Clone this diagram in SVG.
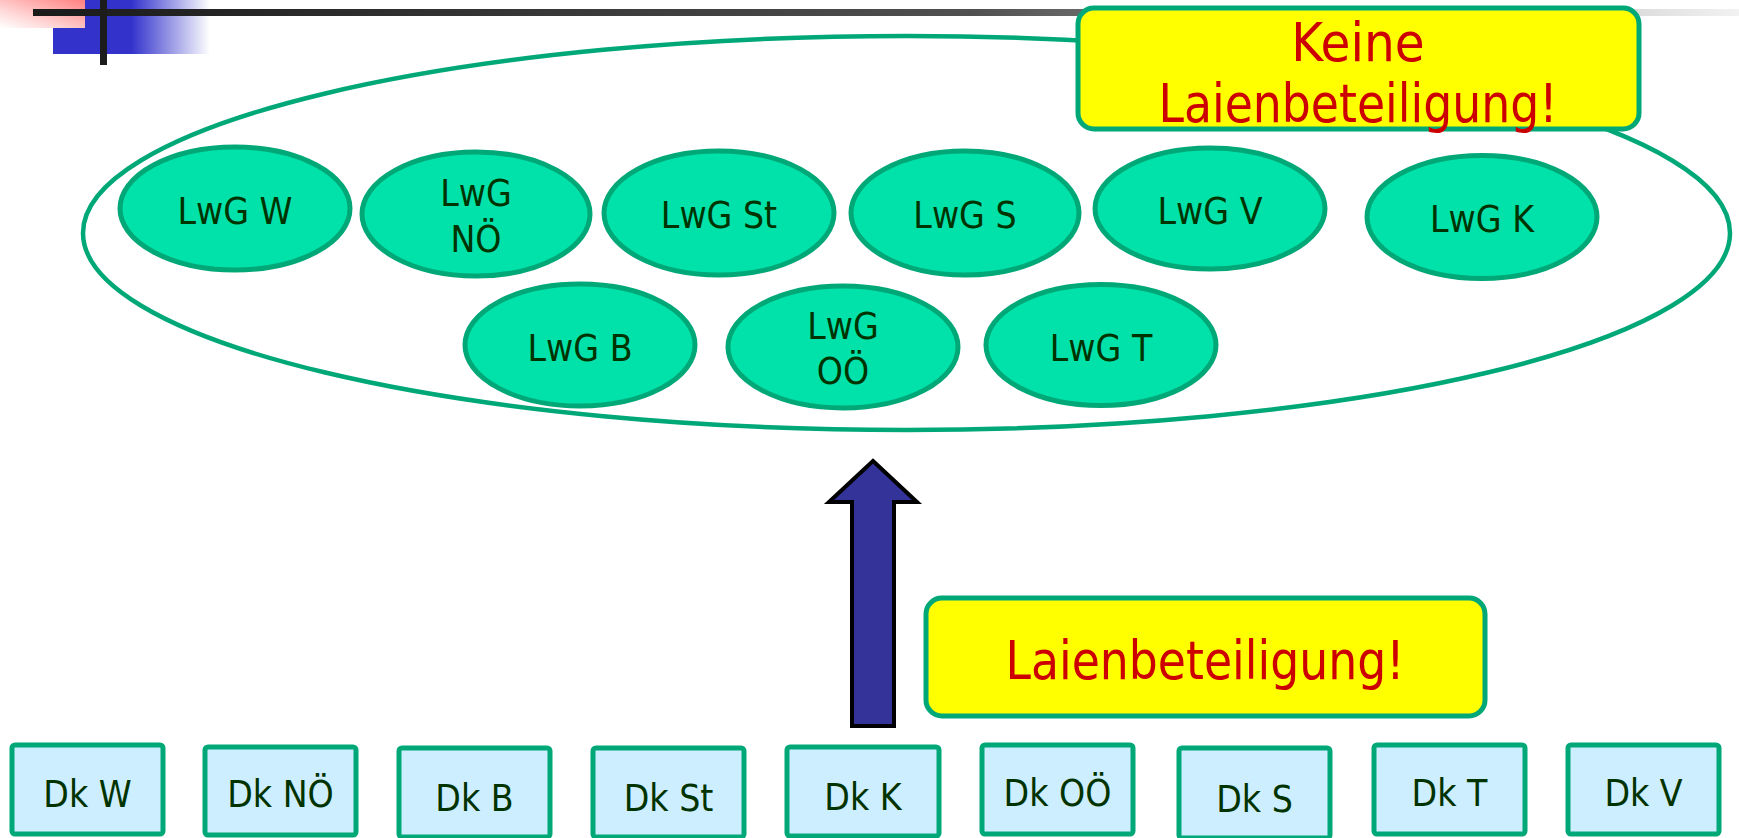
<svg xmlns="http://www.w3.org/2000/svg" width="1739" height="838" viewBox="0 0 1739 838">
<defs>
<linearGradient id="lineGrad" x1="0" y1="0" x2="1" y2="0">
<stop offset="0" stop-color="#1a1a1a"/>
<stop offset="0.55" stop-color="#505050"/>
<stop offset="1" stop-color="#f2f2f2"/>
</linearGradient>
<linearGradient id="blueGrad" x1="0" y1="0" x2="1" y2="0">
<stop offset="0" stop-color="#3333cc"/>
<stop offset="0.5" stop-color="#3333cc"/>
<stop offset="1" stop-color="#3333cc" stop-opacity="0"/>
</linearGradient>
<linearGradient id="pinkGrad" x1="0" y1="1" x2="1" y2="0">
<stop offset="0" stop-color="#ffffff"/>
<stop offset="0.35" stop-color="#ffd6d6"/>
<stop offset="1" stop-color="#ff8080"/>
</linearGradient>
<style>
.lwg ellipse{fill:#00e2a9;stroke:#00a878;stroke-width:5}
.dk rect{fill:#cdeeff;stroke:#00a878;stroke-width:5}
.t{font-family:'DejaVu Sans Condensed','DejaVu Sans',sans-serif;font-stretch:condensed;font-size:37px;fill:#003300;text-anchor:middle}
.y rect{fill:#ffff00;stroke:#00a878;stroke-width:5}
.r{font-family:'DejaVu Sans Condensed','DejaVu Sans',sans-serif;font-stretch:condensed;font-size:54px;fill:#cc0000;text-anchor:middle}
</style>
</defs>
<rect width="1739" height="838" fill="#ffffff"/>
<g id="decoration">
<rect x="53" y="0" width="157" height="54" fill="url(#blueGrad)"/>
<rect x="0" y="0" width="85" height="28" fill="url(#pinkGrad)"/>
<rect x="33" y="9" width="1706" height="7" fill="url(#lineGrad)"/>
<rect x="100" y="0" width="7" height="65" fill="#1c1c1c"/>
</g>
<g id="group-ellipse">
<ellipse cx="906.5" cy="233" rx="823.5" ry="197" fill="none" stroke="#00a878" stroke-width="4.5"/>
</g>
<g id="lwg-w" class="lwg"><ellipse cx="235" cy="208.5" rx="115" ry="61.5"/><text class="t" x="235" y="224">LwG W</text></g>
<g id="lwg-noe" class="lwg"><ellipse cx="476" cy="214" rx="114" ry="62"/><text class="t" x="476" y="206">LwG</text><text class="t" x="476" y="252">NÖ</text></g>
<g id="lwg-st" class="lwg"><ellipse cx="719" cy="213" rx="115" ry="62"/><text class="t" x="719" y="228">LwG St</text></g>
<g id="lwg-s" class="lwg"><ellipse cx="965" cy="213" rx="114" ry="62"/><text class="t" x="965" y="228">LwG S</text></g>
<g id="lwg-v" class="lwg"><ellipse cx="1210" cy="208.5" rx="115" ry="60.5"/><text class="t" x="1210" y="224">LwG V</text></g>
<g id="lwg-k" class="lwg"><ellipse cx="1482" cy="217" rx="115" ry="61.5"/><text class="t" x="1482" y="232">LwG K</text></g>
<g id="lwg-b" class="lwg"><ellipse cx="580" cy="345" rx="115" ry="61"/><text class="t" x="580" y="361">LwG B</text></g>
<g id="lwg-ooe" class="lwg"><ellipse cx="843" cy="347" rx="115" ry="61"/><text class="t" x="843" y="339">LwG</text><text class="t" x="843" y="384">OÖ</text></g>
<g id="lwg-t" class="lwg"><ellipse cx="1101" cy="345" rx="115" ry="60.5"/><text class="t" x="1101" y="361">LwG T</text></g>
<g id="keine-box" class="y">
<rect x="1078" y="8" width="561" height="121" rx="16"/>
<text class="r" x="1358" y="61">Keine</text>
<text class="r" x="1358" y="122" textLength="399" lengthAdjust="spacingAndGlyphs">Laienbeteiligung!</text>
</g>
<g id="connectors">
<path d="M873,461 L917,502 L894,502 L894,726 L852,726 L852,502 L829,502 Z" fill="#333399" stroke="#000000" stroke-width="4" stroke-linejoin="miter"/>
</g>
<g id="laien-box" class="y">
<rect x="926" y="598" width="559" height="118" rx="16"/>
<text class="r" x="1205" y="679" textLength="399" lengthAdjust="spacingAndGlyphs">Laienbeteiligung!</text>
</g>
<g id="dk-w" class="dk"><rect x="12" y="745" width="151" height="89" rx="3"/><text class="t" x="87.5" y="807">Dk W</text></g>
<g id="dk-noe" class="dk"><rect x="205" y="747" width="151" height="88" rx="3"/><text class="t" x="280.5" y="807">Dk NÖ</text></g>
<g id="dk-b" class="dk"><rect x="399" y="748" width="151" height="89" rx="3"/><text class="t" x="474.5" y="811">Dk B</text></g>
<g id="dk-st" class="dk"><rect x="593" y="748" width="151" height="89" rx="3"/><text class="t" x="668.5" y="811">Dk St</text></g>
<g id="dk-k" class="dk"><rect x="787" y="747" width="152" height="89" rx="3"/><text class="t" x="863" y="810">Dk K</text></g>
<g id="dk-ooe" class="dk"><rect x="982" y="745" width="151" height="89" rx="3"/><text class="t" x="1057.5" y="806">Dk OÖ</text></g>
<g id="dk-s" class="dk"><rect x="1179" y="748" width="151" height="90" rx="3"/><text class="t" x="1254.5" y="812">Dk S</text></g>
<g id="dk-t" class="dk"><rect x="1374" y="745" width="151" height="89" rx="3"/><text class="t" x="1449.5" y="806">Dk T</text></g>
<g id="dk-v" class="dk"><rect x="1568" y="745" width="151" height="89" rx="3"/><text class="t" x="1643.5" y="806">Dk V</text></g>
</svg>
